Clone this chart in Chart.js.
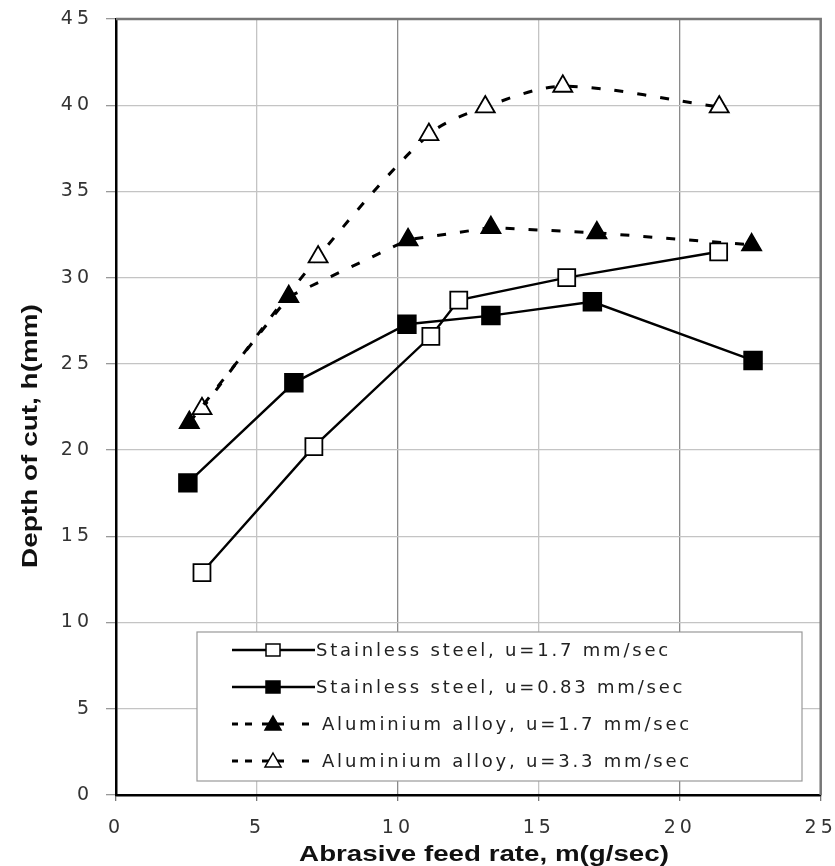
<!DOCTYPE html>
<html>
<head>
<meta charset="utf-8">
<script src="https://cdn.jsdelivr.net/npm/chart.js@4.4.1/dist/chart.umd.min.js"></script>
<style>
  html, body { margin: 0; padding: 0; background: #fff; }
  #wrap { width: 835px; height: 866px; position: relative; }
</style>
</head>
<body>
<div id="wrap"><canvas id="chart" width="835" height="866"></canvas></div>
<script>
// Stainless steel, u=1.7 mm/sec (open squares)
const ssFastX = [3.05, 7.02, 11.17, 12.16, 15.99, 21.38];
const ssFastY = [12.9, 20.2, 26.6, 28.7, 30.0, 31.5];
// Stainless steel, u=0.83 mm/sec (filled squares)
const ssSlowX = [2.55, 6.31, 10.32, 13.3, 16.9, 22.6];
const ssSlowY = [18.1, 23.9, 27.3, 27.8, 28.6, 25.2];
// Aluminium alloy, u=1.7 mm/sec (filled triangles)
const alSlowX = [2.6, 6.13, 10.36, 13.3, 17.06, 22.55];
const alSlowY = [21.6, 28.9, 32.2, 32.9, 32.6, 31.9];
// Aluminium alloy, u=3.3 mm/sec (open triangles)
const alFastX = [3.05, 7.17, 11.1, 13.1, 15.85, 21.4];
const alFastY = [22.4, 31.2, 38.3, 39.9, 41.1, 39.9];

const seriesLabels = [
  'Stainless steel, u=1.7 mm/sec',
  'Stainless steel, u=0.83 mm/sec',
  'Aluminium alloy, u=1.7 mm/sec',
  'Aluminium alloy, u=3.3 mm/sec'
];
const xTitle = 'Abrasive feed rate, m(g/sec)';
const yTitle = 'Depth of cut, h(mm)';

const pts = (xs, ys) => xs.map((x, i) => ({ x: x, y: ys[i] }));

const dash = [9, 14];

const styles = [
  { pointStyle: 'rect', fill: '#fff', dashed: false, r: 12, tension: 0 },
  { pointStyle: 'rect', fill: '#000', dashed: false, r: 12.5, tension: 0 },
  { pointStyle: 'triangle', fill: '#000', dashed: true, r: 11, tension: 0 },
  { pointStyle: 'triangle', fill: '#fff', dashed: true, r: 11, tension: 0.3 }
];

const allData = [pts(ssFastX, ssFastY), pts(ssSlowX, ssSlowY), pts(alSlowX, alSlowY), pts(alFastX, alFastY)];

const datasets = allData.map((d, i) => ({
  label: seriesLabels[i],
  data: d,
  borderColor: '#000',
  borderWidth: styles[i].dashed ? 3 : 2.4,
  borderDash: styles[i].dashed ? dash : [],
  tension: styles[i].tension,
  pointStyle: styles[i].pointStyle,
  pointRadius: styles[i].r,
  pointBackgroundColor: styles[i].fill,
  pointBorderColor: '#000',
  pointBorderWidth: 1.8,
  fill: false
}));

// frame, axis titles and the boxed legend
const extras = {
  id: 'extras',
  beforeDraw(chart) {
    chart.ctx.letterSpacing = '4px';
  },
  afterDraw(chart) {
    const ctx = chart.ctx;
    const a = chart.chartArea;
    ctx.save();
    ctx.letterSpacing = '0px';

    // top / right frame
    ctx.strokeStyle = '#777';
    ctx.lineWidth = 2.5;
    ctx.beginPath();
    ctx.moveTo(a.left, a.top);
    ctx.lineTo(a.right, a.top);
    ctx.lineTo(a.right, a.bottom);
    ctx.stroke();

    // axis titles (stretched along the text, as in the scan)
    ctx.fillStyle = '#111';
    ctx.font = 'bold 22px "Liberation Sans", Arial, sans-serif';
    ctx.textAlign = 'center';
    ctx.textBaseline = 'alphabetic';
    ctx.save();
    ctx.translate(484, 861);
    ctx.scale(1.26, 1);
    ctx.fillText(xTitle, 0, 0);
    ctx.restore();
    ctx.save();
    ctx.translate(37, 436);
    ctx.rotate(-Math.PI / 2);
    ctx.scale(1.27, 1);
    ctx.fillText(yTitle, 0, 0);
    ctx.restore();

    // legend box
    const bx = 197, by = 632, bw = 605, bh = 149;
    ctx.fillStyle = '#fff';
    ctx.fillRect(bx, by, bw, bh);
    ctx.strokeStyle = '#999';
    ctx.lineWidth = 1.2;
    ctx.strokeRect(bx, by, bw, bh);

    const rows = [650, 687, 724, 761];
    ctx.font = '18px "DejaVu Sans", sans-serif';
    ctx.letterSpacing = '2.8px';
    ctx.textAlign = 'left';
    ctx.textBaseline = 'middle';
    rows.forEach((y, i) => {
      const s = styles[i];
      ctx.strokeStyle = '#000';
      if (s.dashed) {
        ctx.lineWidth = 3;
        [[232, 238], [245, 252], [262, 284], [302, 309]].forEach(seg => {
          ctx.beginPath(); ctx.moveTo(seg[0], y); ctx.lineTo(seg[1], y); ctx.stroke();
        });
      } else {
        ctx.lineWidth = 2.4;
        ctx.beginPath(); ctx.moveTo(232, y); ctx.lineTo(315, y); ctx.stroke();
      }
      ctx.fillStyle = s.fill;
      ctx.lineWidth = 1.5;
      ctx.beginPath();
      if (s.pointStyle === 'rect') {
        ctx.rect(266, y - 6, 14, 12);
      } else {
        ctx.moveTo(273, y - 8);
        ctx.lineTo(281, y + 6);
        ctx.lineTo(265, y + 6);
        ctx.closePath();
      }
      ctx.fill();
      ctx.stroke();
      ctx.fillStyle = '#222';
      ctx.fillText(seriesLabels[i], s.dashed ? 322 : 316, y + 1);
    });
    ctx.restore();
  }
};

const tickFont = { family: '"DejaVu Sans", sans-serif', size: 19 };

new Chart(document.getElementById('chart'), {
  type: 'line',
  data: { datasets: datasets },
  options: {
    responsive: false,
    animation: false,
    layout: { padding: { left: 0, top: 19, right: 14, bottom: 0 } },
    plugins: { legend: { display: false }, tooltip: { enabled: false } },
    scales: {
      x: {
        type: 'linear',
        min: 0,
        max: 25,
        ticks: { stepSize: 5, color: '#333', font: tickFont, padding: 16, maxRotation: 0 },
        grid: {
          color: c => (c.tick && (c.tick.value === 10 || c.tick.value === 20)) ? '#8a8a8a' : '#c4c4c4',
          tickColor: '#777',
          tickLength: 6,
          lineWidth: 1.3
        },
        border: { color: '#000', width: 2.5 },
        afterFit(scale) { scale.height = 71; scale.paddingLeft = 0; scale.paddingRight = 0; }
      },
      y: {
        min: 0,
        max: 45,
        ticks: { stepSize: 5, color: '#333', font: tickFont, padding: 13 },
        grid: { color: '#c4c4c4', tickColor: '#999', tickLength: 10, lineWidth: 1.3 },
        border: { color: '#000', width: 2.5 },
        afterFit(scale) { scale.width = 116; scale.paddingTop = 0; scale.paddingBottom = 0; }
      }
    }
  },
  plugins: [extras]
});
</script>
</body>
</html>
